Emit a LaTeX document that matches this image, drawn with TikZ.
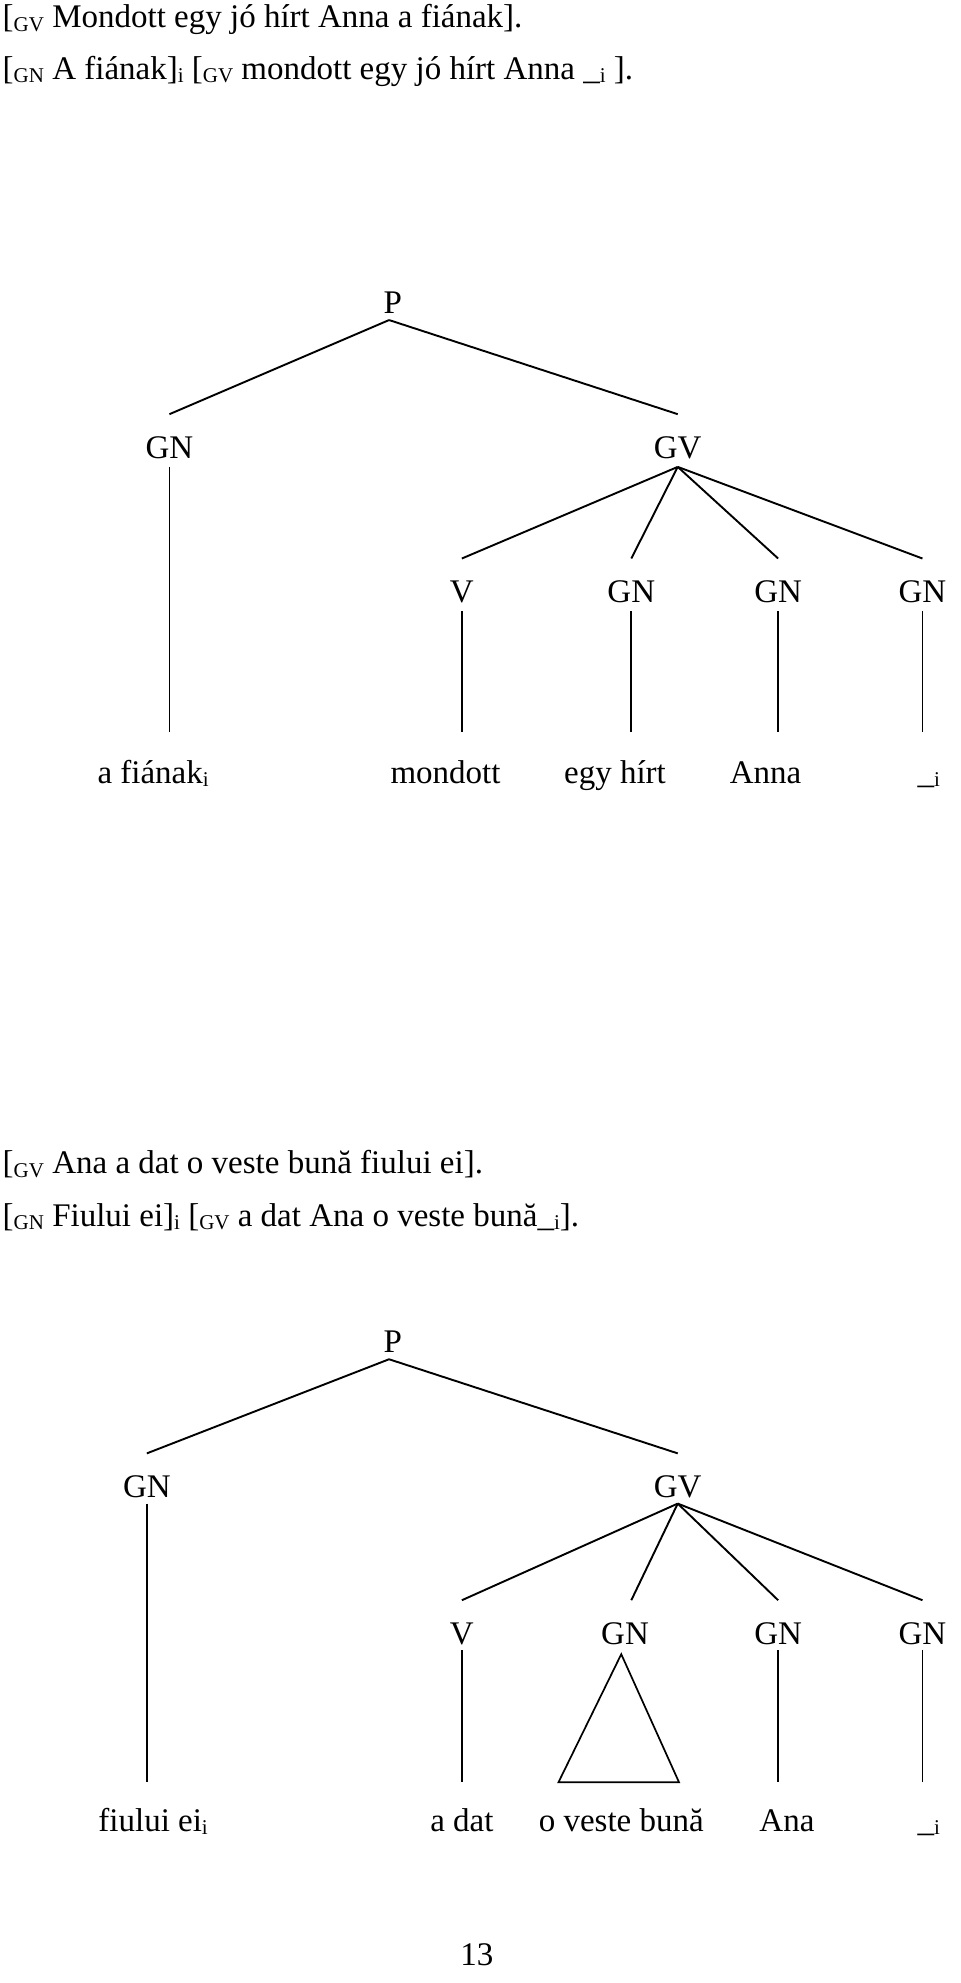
\documentclass[tikz,border=0pt]{standalone}
\usepackage{fontspec}
\setmainfont{Liberation Serif}
\newcommand{\lbl}[1]{\raisebox{-0.25ex}{\fontsize{21}{21}\selectfont #1}}
\begin{document}
\begin{tikzpicture}[x=1.255pt,y=-1.255pt,
  every node/.style={font=\fontsize{33}{36}\selectfont,inner sep=0pt},
  cat/.style={anchor=base},
  branch/.style={line width=1.9pt},
  stem/.style={line width=1.7pt}]
\useasboundingbox (0,0) rectangle (765,1580);
% sentences, first tree
\node[anchor=base west] (s1) at (2,22) {[\lbl{GV} Mondott egy jó hírt Anna a fiának].};
\node[anchor=base west] (s2) at (2,63) {[\lbl{GN} A fiának]\lbl{i} [\lbl{GV} mondott egy jó hírt Anna \_\lbl{i} ].};
\node[cat] (P) at (313,250) {P};
\node[cat] (GN) at (135,365) {GN};
\node[cat] (GV) at (540,365) {GV};
\node[cat] (V) at (368,480) {V};
\node[cat] (GNa) at (503,480) {GN};
\node[cat] (GNb) at (620,480) {GN};
\node[cat] (GNc) at (735,480) {GN};
\coordinate (Pb) at (310,255);
\coordinate (GVb) at (540,372);
\draw[branch] (Pb)--(135,330);
\draw[branch] (Pb)--(540,330);
\draw[branch] (GVb)--(368,445);
\draw[branch] (GVb)--(503,445);
\draw[branch] (GVb)--(620,445);
\draw[branch] (GVb)--(735,445);
\draw[stem] (135,372)--(135,583);
\foreach \x in {368,503,620,735} \draw[stem] (\x,487)--(\x,583);
\node[cat] (w1) at (122,624) {a fiának\lbl{i}};
\node[cat] (w2) at (355,624) {mondott};
\node[cat] (w3) at (490,624) {egy hírt};
\node[cat] (w4) at (610,624) {Anna};
\node[cat] (w5) at (740,624) {\_\lbl{i}};
% sentences, second tree
\node[anchor=base west] (s3) at (2,935) {[\lbl{GV} Ana a dat o veste bună fiului ei].};
\node[anchor=base west] (s4) at (2,977) {[\lbl{GN} Fiului ei]\lbl{i} [\lbl{GV} a dat Ana o veste bună\_\lbl{i}].};
\node[cat] (P2) at (313,1078) {P};
\node[cat] (GN2) at (117,1193) {GN};
\node[cat] (GV2) at (540,1193) {GV};
\node[cat] (V2) at (368,1310) {V};
\node[cat] (GN2a) at (498,1310) {GN};
\node[cat] (GN2b) at (620,1310) {GN};
\node[cat] (GN2c) at (735,1310) {GN};
\coordinate (P2b) at (310,1083);
\coordinate (GV2b) at (540,1198);
\draw[branch] (P2b)--(117,1158);
\draw[branch] (P2b)--(540,1158);
\draw[branch] (GV2b)--(368,1275);
\draw[branch] (GV2b)--(503,1275);
\draw[branch] (GV2b)--(620,1275);
\draw[branch] (GV2b)--(735,1275);
\draw[stem] (117,1198)--(117,1420);
\foreach \x in {368,620,735} \draw[stem] (\x,1315)--(\x,1420);
\draw[stem] (495,1318)--(445,1420)--(541,1420)--cycle;
\node[cat] (v1) at (122,1459) {fiului ei\lbl{i}};
\node[cat] (v2) at (368,1459) {a dat};
\node[cat] (v3) at (495,1459) {o veste bună};
\node[cat] (v4) at (627,1459) {Ana};
\node[cat] (v5) at (740,1459) {\_\lbl{i}};
\node[cat] (pg) at (380,1566) {13};
\end{tikzpicture}
\end{document}
